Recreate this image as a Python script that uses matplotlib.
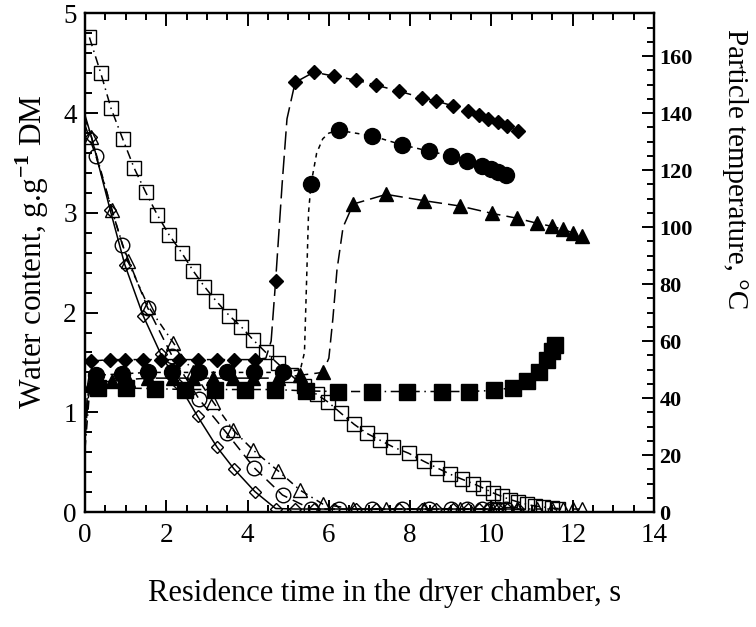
import numpy as np
import matplotlib
matplotlib.use('Agg')
import matplotlib.pyplot as plt
from matplotlib.ticker import MultipleLocator

plt.rcParams['font.family'] = 'Liberation Serif'
plt.rcParams['mathtext.fontset'] = 'custom'
plt.rcParams['mathtext.rm'] = 'Liberation Serif'
plt.rcParams['mathtext.bf'] = 'Liberation Serif:bold'

# run 1 : diamonds (water = open, temperature = filled)
t_dia = [0.16, 0.62, 0.98, 1.43, 1.87, 2.32, 2.77, 3.25, 3.67, 4.18, 4.69, 5.17, 5.63,
         6.13, 6.67, 7.15, 7.73, 8.28, 8.63, 9.05, 9.43, 9.70, 9.92, 10.15, 10.38, 10.66]
w_dia = [3.76, 3.03, 2.48, 1.97, 1.58, 1.27, 0.96, 0.65, 0.43, 0.205, 0.035, 0.03, 0.03,
         0.03, 0.03, 0.03, 0.03, 0.03, 0.03, 0.03, 0.03, 0.03, 0.03, 0.03, 0.03, 0.03]
T_dia = [53, 53.5, 53.5, 53.5, 53.5, 53.5, 53.5, 53.5, 53.5, 53.5, 81, 150.8, 154.4,
         153, 151.6, 149.9, 147.7, 145.5, 144.3, 142.6, 140.9, 139.2, 138.1, 137, 135.6, 133.6]
# extra points of the drawn curves (no marker)
w0_dia = 3.98
Tc_dia_t = [0.0, 0.07, 4.45, 4.58, 4.85, 4.97]
Tc_dia_T = [25, 45, 54, 60, 115, 138]

# run 2 : circles
t_cir = [0.27, 0.92, 1.54, 2.15, 2.81, 3.49, 4.16, 4.86, 5.56, 6.24, 7.07, 7.80,
         8.46, 9.00, 9.41, 9.76, 9.99, 10.17, 10.35]
w_cir = [3.57, 2.68, 2.05, 1.56, 1.13, 0.79, 0.445, 0.17, 0.03, 0.03, 0.03, 0.03,
         0.03, 0.03, 0.03, 0.03, 0.03, 0.03, 0.03]
T_cir = [48, 48.5, 49, 49, 49, 49, 49, 49, 115, 134, 132, 128.9,
         126.7, 125, 123.3, 121.6, 120.5, 119.4, 118.2]
w0_cir = 3.88
Tc_cir_t = [0.0, 0.08, 5.3, 5.4, 5.45, 5.5, 5.7, 5.85, 6.0]
Tc_cir_T = [28, 42, 50, 56, 80, 105, 126, 131, 133]

# run 3 : triangles
t_tri = [0.16, 0.66, 1.05, 1.56, 2.17, 2.67, 3.16, 3.65, 4.14, 4.76, 5.29, 5.85,
         6.60, 7.41, 8.34, 9.23, 10.02, 10.64, 11.11, 11.48, 11.77, 12.00, 12.22]
w_tri = [3.76, 3.03, 2.52, 2.06, 1.70, 1.40, 1.10, 0.82, 0.62, 0.41, 0.22, 0.08,
         0.03, 0.03, 0.03, 0.03, 0.03, 0.03, 0.03, 0.03, 0.03, 0.03, 0.03]
T_tri = [45, 46, 46.5, 47, 47, 47, 47, 47, 47, 47, 48, 49,
         108.1, 111.5, 109.3, 107.4, 104.8, 103.1, 101.4, 100.3, 99.2, 98.0, 96.9]
w0_tri = 3.95
Tc_tri_t = [0.0, 0.08, 6.0, 6.1, 6.2, 6.35]
Tc_tri_T = [26, 40, 54, 68, 85, 100]

# run 4 : squares (water and temperature sampled at different times)
t_sq_w = [0.11, 0.39, 0.64, 0.93, 1.21, 1.49, 1.78, 2.07, 2.38, 2.66, 2.94, 3.22, 3.55,
          3.84, 4.13, 4.45, 4.74, 5.06, 5.39, 5.70, 5.99, 6.30, 6.62, 6.93, 7.26, 7.59,
          7.96, 8.33, 8.65, 8.98, 9.27, 9.55, 9.80, 10.05, 10.25, 10.46, 10.66, 10.87,
          11.07, 11.28, 11.48, 11.65]
w_sq = [4.76, 4.40, 4.05, 3.74, 3.45, 3.21, 2.98, 2.78, 2.60, 2.42, 2.26, 2.12, 1.97,
        1.86, 1.73, 1.60, 1.49, 1.375, 1.26, 1.18, 1.10, 0.99, 0.88, 0.79, 0.72, 0.65,
        0.59, 0.51, 0.445, 0.38, 0.33, 0.285, 0.24, 0.19, 0.157, 0.125, 0.10, 0.077,
        0.06, 0.05, 0.04, 0.035]
t_sq_T = [0.33, 1.02, 1.72, 2.46, 3.20, 3.94, 4.68, 5.45, 6.23, 7.05, 7.92, 8.78,
          9.46, 10.07, 10.52, 10.87, 11.18, 11.36, 11.48, 11.56]
T_sq = [43.5, 43.5, 43.3, 43, 43, 43, 43, 42.5, 42.3, 42.3, 42.3, 42.3,
        42.3, 42.7, 43.7, 45.9, 49.2, 53.2, 56.5, 58.8]
Tc_sq_t = [0.0, 0.1]
Tc_sq_T = [22, 40]


def curve(t, y, tx, ty):
    x = np.r_[t, tx]
    v = np.r_[y, ty]
    o = np.argsort(x)
    return x[o], v[o]


fig = plt.figure(figsize=(7.56, 6.27), dpi=100)
ax = fig.add_axes([0.1124, 0.1834, 0.7527, 0.7951])
ax2 = ax.twinx()

lw = 1.1
# water content, open symbols
ax.plot(np.r_[0, t_dia], np.r_[w0_dia, w_dia], '-', color='k', lw=lw)
ax.plot(t_dia, w_dia, ls='none', marker='D', ms=6, mfc='none', mec='k', mew=1.0)
ax.plot(np.r_[0, t_cir], np.r_[w0_cir, w_cir], color='k', lw=lw, ls=(0, (7, 4)))
ax.plot(t_cir, w_cir, ls='none', marker='o', ms=10.5, mfc='none', mec='k', mew=1.0)
ax.plot(np.r_[0, t_tri], np.r_[w0_tri, w_tri], color='k', lw=lw, ls=(0, (5, 3, 1, 3)))
ax.plot(t_tri, w_tri, ls='none', marker='^', ms=10, mfc='none', mec='k', mew=1.0)
ax.plot(t_sq_w, w_sq, color='k', lw=lw, ls=(0, (6, 3, 1, 3)), marker='s', ms=10,
        mfc='none', mec='k', mew=1.0)

# particle temperature, filled symbols
x, y = curve(t_dia, T_dia, Tc_dia_t, Tc_dia_T)
ax2.plot(x, y, color='k', lw=lw, ls=(0, (12, 4)))
ax2.plot(t_dia, T_dia, ls='none', marker='D', ms=7.5, color='k')
x, y = curve(t_cir, T_cir, Tc_cir_t, Tc_cir_T)
ax2.plot(x, y, color='k', lw=lw, ls=(0, (3, 3)))
ax2.plot(t_cir, T_cir, ls='none', marker='o', ms=11.5, color='k')
x, y = curve(t_tri, T_tri, Tc_tri_t, Tc_tri_T)
ax2.plot(x, y, color='k', lw=lw, ls=(0, (9, 4)))
ax2.plot(t_tri, T_tri, ls='none', marker='^', ms=10, color='k')
x, y = curve(t_sq_T, T_sq, Tc_sq_t, Tc_sq_T)
ax2.plot(x, y, color='k', lw=lw, ls=(0, (6, 3, 1, 3)))
ax2.plot(t_sq_T, T_sq, ls='none', marker='s', ms=11, color='k')

ax.set_xlim(0, 14)
ax.set_ylim(0, 5)
ax2.set_ylim(0, 175)
ax.xaxis.set_major_locator(MultipleLocator(2))
ax.xaxis.set_minor_locator(MultipleLocator(0.5))
ax.yaxis.set_major_locator(MultipleLocator(1))
ax.yaxis.set_minor_locator(MultipleLocator(0.2))
ax2.yaxis.set_minor_locator(MultipleLocator(5))
ax2.set_yticks(range(0, 161, 20))
ax2.set_yticklabels([str(v) for v in range(0, 161, 20)], fontweight='bold')

ax.tick_params(which='both', direction='in', top=True, right=False, width=1.4)
ax.tick_params(which='major', length=9, labelsize=19.5, pad=6)
ax.tick_params(axis='x', which='major', pad=8)
ax.tick_params(which='minor', length=5)
ax2.tick_params(which='both', direction='in', width=1.4)
ax2.tick_params(which='major', length=9, labelsize=16, pad=4)
ax2.tick_params(which='minor', length=5)
for s in ax.spines.values():
    s.set_linewidth(1.6)
for s in ax2.spines.values():
    s.set_linewidth(1.6)

ax.set_xlabel('Residence time in the dryer chamber, s', fontsize=22)
ax.xaxis.set_label_coords(0.527, -0.1325)
ax.set_ylabel(r'Water content, g.g$^{\mathbf{-1}}$ DM', fontsize=22.5)
ax.yaxis.set_label_coords(-0.06, 0.522)
ax2.set_ylabel('Particle temperature, \u00b0C', fontsize=21, rotation=270, va='center')
ax2.yaxis.set_label_coords(1.143, 0.687)

fig.savefig('out.png', dpi=100)
